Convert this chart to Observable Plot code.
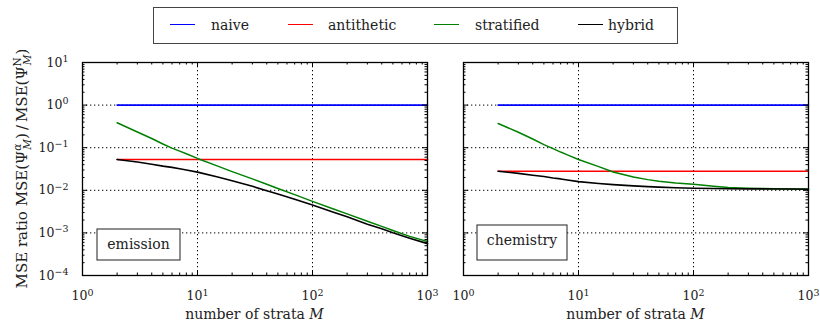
<!DOCTYPE html>
<html><head><meta charset="utf-8">
<script src="https://cdn.jsdelivr.net/npm/d3@7"></script>
<script src="https://cdn.jsdelivr.net/npm/@observablehq/plot@0.6"></script>
<style>
body{margin:0;background:#fff;font-family:"DejaVu Serif",serif;}
#wrap{position:relative;width:820px;height:323px;overflow:hidden;}
#legend{position:absolute;left:153px;top:7px;width:525px;height:37px;border:1px solid #444;box-sizing:border-box;background:#fff;z-index:2;}
.sw{position:absolute;top:16px;width:25px;height:0;border-top:1.6px solid;}
.lt{position:absolute;top:7px;font-family:"DejaVu Serif",serif;font-size:14px;line-height:20px;color:#222;white-space:nowrap;}
#plots{position:absolute;left:0;top:50px;display:flex;}
svg{background:transparent !important;}
</style></head><body>
<div id="wrap"><div id="legend"></div><div id="plots"></div></div>
<script>
// ---- data ----
const strata = [2,3,4,5,6,7,8,10,15,20,30,40,50,70,100,150,200,300,400,500,700,1000];
const seriesNames = ["naive","antithetic","stratified","hybrid"];
const seriesColors = ["#0000ff","#ff0000","#008000","#000000"];
// emission panel
const emissionNaive = 1.0;
const emissionAntithetic = 0.053;
const emissionStratified = [0.384,0.233,0.164,0.122,0.098,0.083,0.072,0.056,0.037,0.0275,0.0185,0.0139,0.011,0.0079,0.0055,0.0037,0.0028,0.00188,0.00142,0.00114,0.00083,0.00063];
const emissionHybrid = [0.053,0.046,0.041,0.037,0.0345,0.032,0.030,0.0267,0.0205,0.0168,0.0124,0.0098,0.0082,0.0062,0.0045,0.0031,0.0024,0.0016,0.00125,0.00101,0.00075,0.00056];
// chemistry panel
const chemistryNaive = 1.0;
const chemistryAntithetic = 0.028;
const chemistryStratified = [0.37,0.23,0.16,0.118,0.095,0.079,0.068,0.053,0.036,0.027,0.0205,0.0178,0.0163,0.0148,0.0138,0.0124,0.0116,0.0112,0.011,0.0109,0.0108,0.0107];
const chemistryHybrid = [0.028,0.025,0.0225,0.021,0.0195,0.0185,0.0175,0.016,0.0145,0.0136,0.0127,0.0122,0.0119,0.0115,0.0112,0.011,0.0109,0.0108,0.0108,0.0107,0.0107,0.0106];
// axes
const xTicks = [1,10,100,1000];
const yTicks = [1e-4,1e-3,1e-2,1e-1,1,10];
const xGrid = [10,100];
const yGrid = [1,0.1,0.01,0.001];
const panelLabels = ["emission","chemistry"];

const minorX = [1,10,100].flatMap(d => d3.range(2,10).map(k => k*d));
const minorY = [1e-4,1e-3,1e-2,1e-1,1].flatMap(d => d3.range(2,10).map(k => k*d));

// ---- legend ----
const legend = document.getElementById("legend");
const swX = [16,134,280,424], ltX = [57,174,321,454];
seriesNames.forEach((n,i) => {
  const s = document.createElement("div"); s.className = "sw";
  s.style.left = swX[i]+"px"; s.style.borderTopColor = seriesColors[i]; legend.appendChild(s);
  const t = document.createElement("div"); t.className = "lt"; t.style.left = ltX[i]+"px"; t.textContent = n; legend.appendChild(t);
});

const H = 273, MT = 12, MB = 48, PH = H - MT - MB;
const FONT = "DejaVu Serif";

function supify(svg){
  d3.select(svg).selectAll("text").each(function(){
    const m = /^10\^(-?\d+)$/.exec(this.textContent);
    if (!m) return;
    const el = d3.select(this); el.text("10");
    el.append("tspan").attr("dy","-0.5em").attr("font-size","9.5px").text(m[1].replace("-","\u2212"));
  });
}

function panel(opts){
  const {width, ml, mr, naive, anti, strat, hyb, showY, label, box} = opts;
  const level = v => strata.map(M => ({M, v}));
  const arr = a => strata.map((M,i) => ({M, v: a[i]}));
  const PW = width - ml - mr;
  const marks = [
    Plot.ruleX(xGrid, {stroke:"#000", strokeDasharray:"1.3,2.7", strokeWidth:1}),
    Plot.ruleY(yGrid, {stroke:"#000", strokeDasharray:"1.3,2.7", strokeWidth:1}),
    Plot.line(level(naive), {x:"M", y:"v", stroke:seriesColors[0], strokeWidth:1.6}),
    Plot.line(level(anti), {x:"M", y:"v", stroke:seriesColors[1], strokeWidth:1.6}),
    Plot.line(arr(strat), {x:"M", y:"v", stroke:seriesColors[2], strokeWidth:1.5}),
    Plot.line(arr(hyb), {x:"M", y:"v", stroke:seriesColors[3], strokeWidth:1.6}),
    // major/minor ticks inside the frame on all sides
    Plot.ruleX(xTicks, {insetTop: PH-5, stroke:"#000"}),
    Plot.ruleX(xTicks, {insetBottom: PH-5, stroke:"#000"}),
    Plot.ruleX(minorX, {insetTop: PH-2.5, stroke:"#000"}),
    Plot.ruleX(minorX, {insetBottom: PH-2.5, stroke:"#000"}),
    Plot.ruleY(yTicks, {insetRight: PW-5, stroke:"#000"}),
    Plot.ruleY(yTicks, {insetLeft: PW-5, stroke:"#000"}),
    Plot.ruleY(minorY, {insetRight: PW-2.5, stroke:"#000"}),
    Plot.ruleY(minorY, {insetLeft: PW-2.5, stroke:"#000"}),
    Plot.frame({stroke:"#000", strokeWidth:1.3}),
    Plot.axisX(xTicks, {tickSize:0, tickPadding:16, tickFormat: d => `10^${Math.round(Math.log10(d))}`, label:null, fontSize:12.5, fill:"#222"}),
  ];
  if (showY) marks.push(Plot.axisY(yTicks, {tickSize:0, tickPadding:14, tickFormat: d => `10^${Math.round(Math.log10(d))}`, label:null, fontSize:12.5, fill:"#222"}));
  else marks.push(Plot.axisY(yTicks, {tickSize:0, tickFormat: () => "", label:null}));
  const svg = Plot.plot({
    width, height: H, marginLeft: ml, marginRight: mr, marginTop: MT, marginBottom: MB,
    style: {fontFamily: FONT, fontSize: "12.5px", background: "transparent", color:"#222"},
    x: {type:"log", domain:[1,1000]},
    y: {type:"log", domain:[1e-4,10]},
    marks
  });
  supify(svg);
  const s = d3.select(svg);
  // x axis title
  const xt = s.append("text").attr("x", ml + PW/2).attr("y", 269).attr("text-anchor","middle")
    .attr("font-family", FONT).attr("font-size", 14).attr("fill","#222");
  xt.append("tspan").text("number of strata ");
  xt.append("tspan").attr("font-style","italic").text("M");
  // panel label box
  s.append("rect").attr("x", box[0]).attr("y", box[1]).attr("width", box[2]).attr("height", box[3])
    .attr("fill","#fff").attr("stroke","#333").attr("stroke-width",1.1);
  s.append("text").attr("x", box[0]+box[2]/2).attr("y", box[1]+20).attr("text-anchor","middle")
    .attr("font-family", FONT).attr("font-size", 14).attr("fill","#222").text(label);
  if (showY) {
    const yt = s.append("text").attr("transform", `translate(27,${MT+PH/2}) rotate(-90)`).attr("text-anchor","middle")
      .attr("font-family", FONT).attr("font-size", 15).attr("fill","#222");
    yt.append("tspan").text("MSE ratio MSE(\u03A8");
    yt.append("tspan").attr("font-size",10.5).attr("font-style","italic").attr("dy",-6).text("\u03B1");
    yt.append("tspan").attr("font-size",10.5).attr("font-style","italic").attr("dx",-6).attr("dy",10).text("M");
    yt.append("tspan").attr("dy",-4).text(")\u2009/\u2009MSE(\u03A8");
    yt.append("tspan").attr("font-size",10.5).attr("dy",-6).text("N");
    yt.append("tspan").attr("font-size",10.5).attr("font-style","italic").attr("dx",-8).attr("dy",10).text("M");
    yt.append("tspan").attr("dy",-4).text(")");
  }
  return svg;
}

const plots = document.getElementById("plots");
plots.appendChild(panel({width:440, ml:82, mr:13, naive:emissionNaive, anti:emissionAntithetic,
  strat:emissionStratified, hyb:emissionHybrid, showY:true, label:panelLabels[0], box:[97,179,83,31]}));
plots.appendChild(panel({width:380, ml:23, mr:12, naive:chemistryNaive, anti:chemistryAntithetic,
  strat:chemistryStratified, hyb:chemistryHybrid, showY:false, label:panelLabels[1], box:[37,175,90,35]}));
</script>
</body></html>
